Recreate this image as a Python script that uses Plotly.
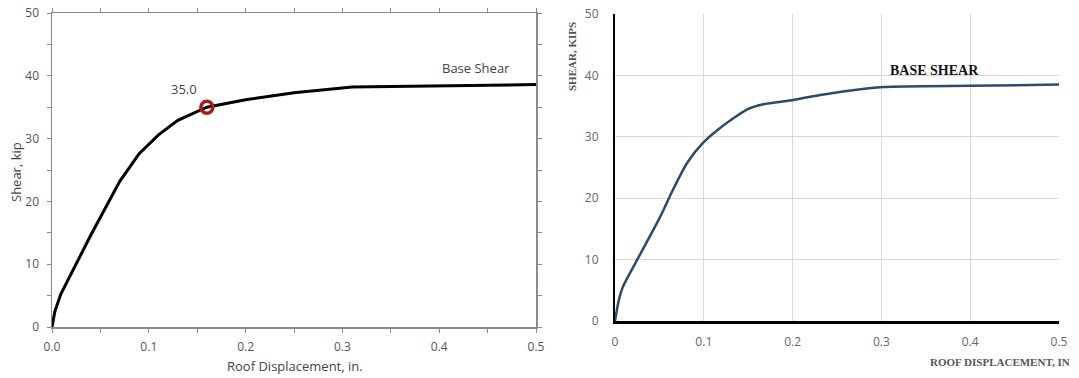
import plotly.graph_objects as go

# Left chart (pushover curve, piecewise linear)
left_disp = [0.0, 0.003, 0.009, 0.04, 0.07, 0.09, 0.11, 0.13, 0.16, 0.20, 0.25, 0.31, 0.50]
left_shear = [0.0, 2.5, 5.2, 14.6, 23.2, 27.6, 30.6, 32.9, 35.0, 36.2, 37.3, 38.2, 38.6]
mark_disp = [0.16]
mark_shear = [35.0]

# Right chart (smooth curve)
right_disp = [0.0, 0.004, 0.009, 0.024, 0.051, 0.065, 0.081, 0.099, 0.118, 0.148, 0.167, 0.201, 0.231, 0.302, 0.40, 0.50]
right_shear = [0.0, 3.2, 5.6, 9.7, 17.0, 21.3, 25.7, 29.0, 31.4, 34.4, 35.3, 36.0, 36.8, 38.1, 38.3, 38.5]

x_ticks = [0.0, 0.1, 0.2, 0.3, 0.4, 0.5]
left_x_labels = ["0.0", "0.1", "0.2", "0.3", "0.4", "0.5"]
right_x_labels = ["0", "0.1", "0.2", "0.3", "0.4", "0.5"]
y_ticks = [0, 10, 20, 30, 40, 50]

W, H = 1079, 378
def px(x):
    return x / W
def py(y):
    return (H - y) / H

fig = go.Figure()

fig.add_trace(go.Scatter(x=left_disp, y=left_shear, mode="lines",
                         line=dict(color="black", width=3), xaxis="x", yaxis="y",
                         showlegend=False, hoverinfo="skip"))
fig.add_trace(go.Scatter(x=mark_disp, y=mark_shear, mode="markers",
                         marker=dict(symbol="circle-open", size=12, color="#b01818",
                                     line=dict(width=3.5, color="#b01818")),
                         xaxis="x", yaxis="y", showlegend=False, hoverinfo="skip"))
fig.add_trace(go.Scatter(x=right_disp, y=right_shear, mode="lines", line_shape="spline",
                         line=dict(color="#2e4a6b", width=2.5, smoothing=0.6), xaxis="x2", yaxis="y2",
                         showlegend=False, hoverinfo="skip"))

tickfont_l = dict(family="Open Sans", size=12, color="#555555")
tickfont_r = dict(family="Open Sans", size=12, color="#666666")

fig.update_layout(
    width=W, height=H,
    margin=dict(l=0, r=0, t=0, b=0, autoexpand=False),
    paper_bgcolor="white", plot_bgcolor="white",
    xaxis=dict(domain=[px(52), px(536)], range=[0, 0.5], tickvals=x_ticks, ticktext=left_x_labels,
               showgrid=False, zeroline=False, showline=True, linecolor="#8a8a8a", linewidth=1.5,
               mirror="ticks", ticks="outside", ticklen=4, tickcolor="#8a8a8a",
               minor=dict(tickvals=[0.05, 0.15, 0.25, 0.35, 0.45], ticks="outside", ticklen=4, tickcolor="#8a8a8a"),
               tickfont=tickfont_l, ticklabelstandoff=4, ticklabeloverflow="allow",
               anchor="y", fixedrange=True, automargin=False),
    yaxis=dict(domain=[py(327), py(13)], range=[0, 50], tickvals=y_ticks,
               showgrid=False, zeroline=False, showline=True, linecolor="#8a8a8a", linewidth=1.5,
               mirror="ticks", ticks="outside", ticklen=4, tickcolor="#8a8a8a",
               minor=dict(tickvals=[5, 15, 25, 35, 45], ticks="outside", ticklen=4, tickcolor="#8a8a8a"),
               tickfont=tickfont_l, ticklabelstandoff=5, ticklabeloverflow="allow",
               anchor="x", fixedrange=True, automargin=False),
    xaxis2=dict(domain=[px(615), px(1059)], range=[0, 0.5], tickvals=x_ticks, ticktext=right_x_labels,
                showgrid=True, gridcolor="#d9d9d9", gridwidth=1, zeroline=False,
                showline=True, linecolor="black", linewidth=3, ticks="",
                tickfont=tickfont_r, ticklabelstandoff=8, ticklabeloverflow="allow",
                anchor="y2", fixedrange=True, automargin=False),
    yaxis2=dict(domain=[py(321), py(14)], range=[0, 50], tickvals=y_ticks,
                showgrid=True, gridcolor="#d9d9d9", gridwidth=1, zeroline=False,
                showline=True, linecolor="black", linewidth=2, ticks="",
                tickfont=tickfont_r, ticklabelstandoff=12, ticklabeloverflow="allow",
                anchor="x2", fixedrange=True, automargin=False),
)

def ann(text, x, y, font, angle=0):
    return dict(text=text, x=px(x), y=py(y), xref="paper", yref="paper", textangle=angle,
                xanchor="center", yanchor="middle", showarrow=False, font=font)

f_sans = dict(family="Open Sans", size=13, color="#444444")
annotations = [
    ann("Shear, kip", 16, 172, f_sans, -90),
    ann("Roof Displacement, in.", 295, 366, f_sans),
    ann("Base Shear", 476, 68, f_sans),
    ann("35.0", 184, 89, f_sans),
    ann("<b>SHEAR, KIPS</b>", 572, 57, dict(family="Liberation Serif", size=11, color="#555555"), -90),
    ann("<b>ROOF DISPLACEMENT, IN</b>", 1000, 362, dict(family="Liberation Serif", size=11, color="#555555")),
    ann("<b>BASE SHEAR</b>", 934, 70, dict(family="Liberation Serif", size=14, color="#111111")),
]
fig.update_layout(annotations=annotations)

fig.write_html("out.html", config={"displayModeBar": False, "staticPlot": True},
               post_script="document.body.style.margin='0';")
